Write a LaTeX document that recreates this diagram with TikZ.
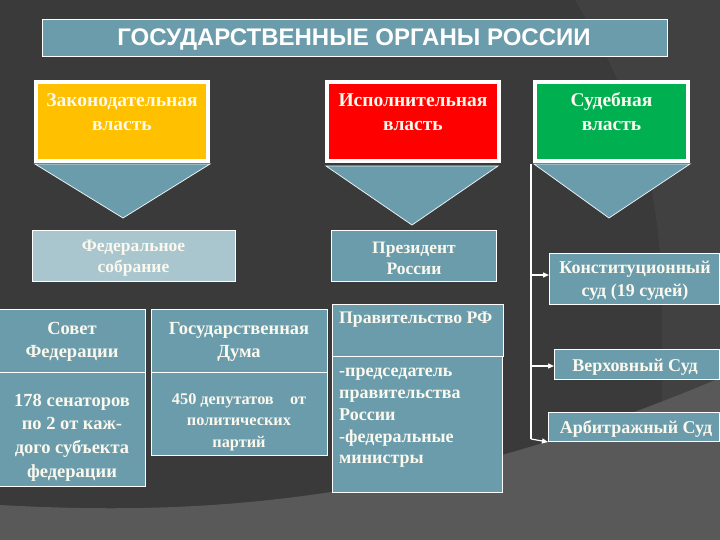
\documentclass[tikz,border=0pt]{standalone}
\usepackage{fontspec}
\setmainfont{Liberation Serif}
\newfontfamily\titlefont{Liberation Sans}
\usetikzlibrary{arrows.meta}
\definecolor{bgdark}{HTML}{3A3A3A}
\definecolor{bgmid}{HTML}{414141}
\definecolor{bglight}{HTML}{595959}
\definecolor{steel}{HTML}{6A9CAB}
\definecolor{steellight}{HTML}{A9C6CE}
\definecolor{yel}{HTML}{FFC000}
\definecolor{redc}{HTML}{FF0000}
\definecolor{grn}{HTML}{00B050}
\definecolor{txt}{HTML}{FBF8EE}
\tikzset{
  topbox/.style={draw=white, line width=4.5pt, minimum width=#1, inner sep=0pt},
  topbox/.default=170,
  plainbox/.style={draw=white, line width=1pt, fill=steel, inner sep=0pt},
  arrowtri/.style={fill=steel, draw=white!85!steel, line width=0.8pt, line join=miter},
  ttext/.style={text=txt, font=\bfseries\fontsize{19.5}{24}\selectfont, align=center, inner sep=0pt},
  mtext/.style={text=txt, font=\bfseries\fontsize{17.5}{21}\selectfont, align=center, inner sep=0pt},
  ltext/.style={text=txt, font=\bfseries\fontsize{18}{21.75}\selectfont, align=left, inner sep=0pt},
  conn/.style={draw=white, line width=1.2pt, -{Triangle[length=6pt,width=5pt]}},
}
\begin{document}
\begin{tikzpicture}[x=1pt,y=-1pt]
\useasboundingbox (0,0) rectangle (720,540);
% background
\fill[bgdark] (0,0) rectangle (720,540);
\fill[bgmid] (575,0) .. controls (630,90) and (665,180) .. (662,330) -- (662,540) -- (720,540) -- (720,0) -- cycle;
\fill[bglight] (0,505) .. controls (200,516) and (420,505) .. (720,378) -- (720,540) -- (0,540) -- cycle;

% title
\node[plainbox, minimum width=625, minimum height=37] (title) at (354.5,38.5) {};
\node[text=white, font=\titlefont\bfseries\fontsize{24}{26}\selectfont, inner sep=0pt] (titlet) at (354,40) {ГОСУДАРСТВЕННЫЕ ОРГАНЫ РОССИИ};

% branch boxes
\node[topbox=172, fill=yel, minimum height=79] (leg) at (122,121.5) {};
\node[topbox=172, fill=redc, minimum height=79] (exe) at (413,121.5) {};
\node[topbox=153, fill=grn, minimum height=79] (jud) at (611.5,121.5) {};
\node[ttext] (legt) at (122,112) {Законодательная\\власть};
\node[ttext] (exet) at (413,112) {Исполнительная\\власть};
\node[ttext] (judt) at (611.5,112) {Судебная\\власть};

% triangles
\coordinate (legtri) at (123,218);
\coordinate (exetri) at (412,225);
\coordinate (judtri) at (609,218);
\path[arrowtri] (35,164) -- (210,164) -- (legtri) -- cycle;
\path[arrowtri] (326,166) -- (498,166) -- (exetri) -- cycle;
\path[arrowtri] (534,164) -- (690,164) -- (judtri) -- cycle;

% second level
\node[plainbox, fill=steellight, minimum width=203, minimum height=51] (fed) at (133.5,256) {};
\node[mtext] (fedt) at (133.5,258) {Федеральное\\собрание};
\node[plainbox, minimum width=165, minimum height=51] (pres) at (414,256) {};
\node[mtext] (prest) at (414,258) {Президент\\России};

% legislature details
\node[plainbox, minimum width=146, minimum height=63] (sov) at (72,340.5) {};
\node[plainbox, minimum width=146, minimum height=114] (sovd) at (72,429) {};
\node[ttext, font=\bfseries\fontsize{18.5}{23}\selectfont] (sovt) at (72,342) {Совет\\Федерации};
\node[ttext, font=\bfseries\fontsize{18.5}{23.7}\selectfont] (sovdt) at (72,437.5) {178 сенаторов\\по 2 от каж-\\дого субъекта\\федерации};

\node[plainbox, minimum width=176, minimum height=63] (duma) at (239,340.5) {};
\node[plainbox, minimum width=176, minimum height=83] (dumad) at (239,413.5) {};
\node[ttext, font=\bfseries\fontsize{18.5}{23}\selectfont] (dumat) at (239,342) {Государственная\\Дума};
\node[mtext, font=\bfseries\fontsize{16.3}{21.5}\selectfont] (dumadt) at (239,422) {450 депутатов\quad от\\политических\\партий};

% government
\node[plainbox, minimum width=171, minimum height=52] (gov) at (417.5,330) {};
\node[plainbox, minimum width=170, minimum height=136] (govd) at (417,424) {};
\node[ltext, font=\bfseries\fontsize{17.7}{21}\selectfont, anchor=west] (govt) at (339,320) {Правительство РФ};
\node[ltext, anchor=west] (govdt) at (339,418) {-председатель\\правительства\\России\\-федеральные\\министры};

% courts
\node[plainbox, anchor=north west, minimum width=170, minimum height=51] (ks) at (549,253) {};
\node[mtext, font=\bfseries\fontsize{18}{23}\selectfont] (kst) at (635,281) {Конституционный\\суд (19 судей)};
\node[plainbox, anchor=north west, minimum width=165, minimum height=30] (vs) at (554,349) {};
\node[mtext, font=\bfseries\fontsize{18}{21}\selectfont] (vst) at (635,367) {Верховный Суд};
\node[plainbox, anchor=north west, minimum width=171, minimum height=29] (as) at (548,412) {};
\node[mtext, font=\bfseries\fontsize{18}{21}\selectfont] (ast) at (636,429) {Арбитражный Суд};

% connectors
\coordinate (trunk) at (531,164);
\coordinate (bend) at (531,439);
\draw[white, line width=1.2pt] (trunk) -- (bend);
\draw[conn] (531,275) -- (ks.west |- 0,275);
\draw[conn] (531,366) -- (vs.west |- 0,366);
\draw[conn] (bend) -- (as.south west);
\end{tikzpicture}
\end{document}
